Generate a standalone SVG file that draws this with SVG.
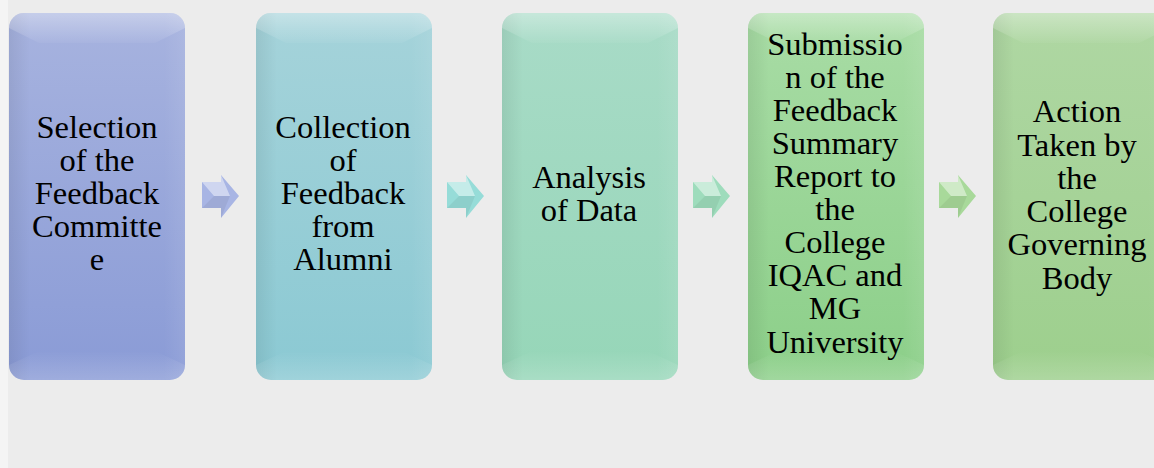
<svg xmlns="http://www.w3.org/2000/svg" width="1154" height="468" viewBox="0 0 1154 468">
  <defs>
    <linearGradient id="g1" x1="0" y1="0" x2="0" y2="1">
      <stop offset="0" stop-color="#a7b3df"/>
      <stop offset="1" stop-color="#8a9bd6"/>
    </linearGradient>
    <linearGradient id="g2" x1="0" y1="0" x2="0" y2="1">
      <stop offset="0" stop-color="#a5d3da"/>
      <stop offset="1" stop-color="#8bc9d3"/>
    </linearGradient>
    <linearGradient id="g3" x1="0" y1="0" x2="0" y2="1">
      <stop offset="0" stop-color="#a8dbc7"/>
      <stop offset="1" stop-color="#96d6b8"/>
    </linearGradient>
    <linearGradient id="g4" x1="0" y1="0" x2="0" y2="1">
      <stop offset="0" stop-color="#a8dca5"/>
      <stop offset="1" stop-color="#8ccf89"/>
    </linearGradient>
    <linearGradient id="g5" x1="0" y1="0" x2="0" y2="1">
      <stop offset="0" stop-color="#afd7a3"/>
      <stop offset="1" stop-color="#9dcf8d"/>
    </linearGradient>
    <linearGradient id="side" x1="0" y1="0" x2="1" y2="0">
      <stop offset="0" stop-color="#000" stop-opacity="0.07"/>
      <stop offset="0.12" stop-color="#000" stop-opacity="0"/>
      <stop offset="0.88" stop-color="#fff" stop-opacity="0"/>
      <stop offset="1" stop-color="#fff" stop-opacity="0.08"/>
    </linearGradient>
    <linearGradient id="topband" x1="0" y1="0" x2="0" y2="1">
      <stop offset="0" stop-color="#fff" stop-opacity="0.35"/>
      <stop offset="1" stop-color="#fff" stop-opacity="0.04"/>
    </linearGradient>
    <linearGradient id="botband" x1="0" y1="0" x2="0" y2="1">
      <stop offset="0" stop-color="#fff" stop-opacity="0"/>
      <stop offset="1" stop-color="#fff" stop-opacity="0.18"/>
    </linearGradient>
    <g id="bevel">
      <rect x="0" y="0" width="176" height="367" rx="15" fill="url(#side)"/>
      <path d="M15,0 H161 A15,15 0 0 1 176,15 L146,30 H30 L0,15 A15,15 0 0 1 15,0 Z" fill="url(#topband)"/>
      <path d="M0,352 L30,338 H146 L176,352 A15,15 0 0 1 161,367 H15 A15,15 0 0 1 0,352 Z" fill="url(#botband)"/>
    </g>
    <g id="arrow">
      <polygon points="202,182 221,182 221,175 239,196 221,218 221,208 202,208"/>
      <polygon points="202,182 221,182 221,175 230,196 214,196" fill="#fff" fill-opacity="0.45"/>
      <polygon points="202,208 221,208 221,218 230,196 214,196" fill="#000" fill-opacity="0.06"/>
    </g>
  </defs>
  <style>
    .lbl { font-family: "Liberation Serif", "Times New Roman", serif; font-size: 32.5px; fill: #000; text-anchor: middle; }
  </style>
  <rect x="0" y="0" width="1154" height="468" fill="#ececec"/>
  <rect x="0" y="0" width="8" height="468" fill="#f4f4f4"/>

  <g id="connectors">
    <use href="#arrow" fill="#a8b5e4"/>
    <use href="#arrow" transform="translate(245,0)" fill="#96dcd8"/>
    <use href="#arrow" transform="translate(491,0)" fill="#9edcbc"/>
    <use href="#arrow" transform="translate(737,0)" fill="#a8d99a"/>
  </g>

  <g id="node1">
    <rect x="9" y="13" width="176" height="367" rx="15" fill="url(#g1)"/>
    <use href="#bevel" transform="translate(9,13)"/>
    <text class="lbl"><tspan x="97" y="138">Selection</tspan><tspan x="97" y="171">of the</tspan><tspan x="97" y="204">Feedback</tspan><tspan x="97" y="237">Committe</tspan><tspan x="97" y="270">e</tspan></text>
  </g>

  <g id="node2">
    <rect x="256" y="13" width="176" height="367" rx="15" fill="url(#g2)"/>
    <use href="#bevel" transform="translate(256,13)"/>
    <text class="lbl"><tspan x="343" y="138">Collection</tspan><tspan x="343" y="171">of</tspan><tspan x="343" y="204">Feedback</tspan><tspan x="343" y="237">from</tspan><tspan x="343" y="270">Alumni</tspan></text>
  </g>

  <g id="node3">
    <rect x="502" y="13" width="176" height="367" rx="15" fill="url(#g3)"/>
    <use href="#bevel" transform="translate(502,13)"/>
    <text class="lbl"><tspan x="589" y="188">Analysis</tspan><tspan x="589" y="221">of Data</tspan></text>
  </g>

  <g id="node4">
    <rect x="748" y="13" width="176" height="367" rx="15" fill="url(#g4)"/>
    <use href="#bevel" transform="translate(748,13)"/>
    <text class="lbl"><tspan x="835" y="55">Submissio</tspan><tspan x="835" y="88">n of the</tspan><tspan x="835" y="121">Feedback</tspan><tspan x="835" y="154">Summary</tspan><tspan x="835" y="187">Report to</tspan><tspan x="835" y="220">the</tspan><tspan x="835" y="253">College</tspan><tspan x="835" y="286">IQAC and</tspan><tspan x="835" y="319">MG</tspan><tspan x="835" y="353">University</tspan></text>
  </g>

  <g id="node5">
    <rect x="993" y="13" width="176" height="367" rx="15" fill="url(#g5)"/>
    <use href="#bevel" transform="translate(993,13)"/>
    <text class="lbl"><tspan x="1077" y="122">Action</tspan><tspan x="1077" y="156">Taken by</tspan><tspan x="1077" y="189">the</tspan><tspan x="1077" y="222">College</tspan><tspan x="1077" y="255">Governing</tspan><tspan x="1077" y="289">Body</tspan></text>
  </g>
</svg>
